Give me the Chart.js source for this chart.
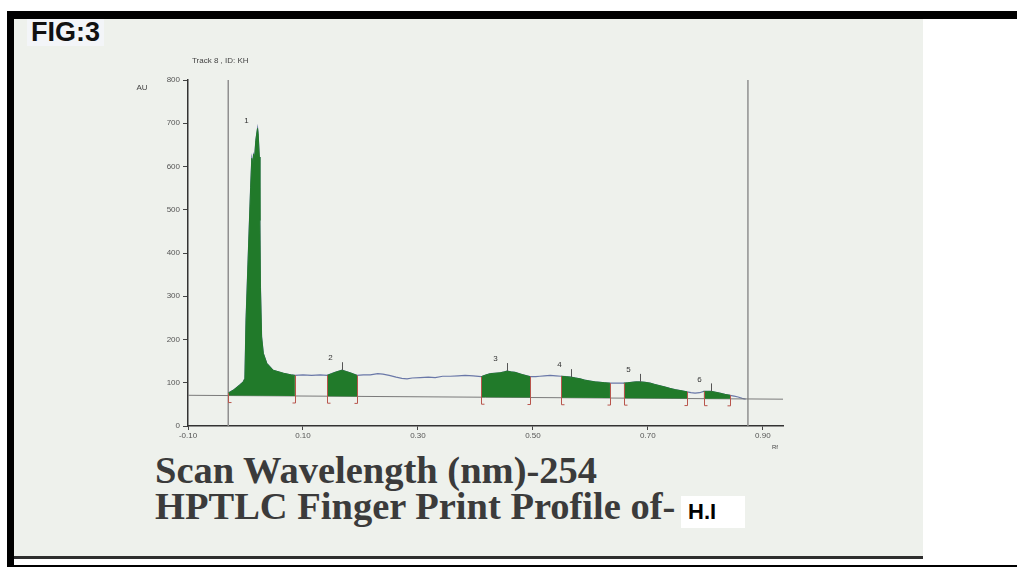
<!DOCTYPE html>
<html lang="en">
<head>
    <meta charset="UTF-8">
    <title>FIG:3 HPTLC Finger Print Profile</title>
    <style>
        html, body {
            margin: 0;
            padding: 0;
            background: #fff;
            width: 1017px;
            height: 567px;
            overflow: hidden;
        }

        #page {
            position: relative;
            width: 1017px;
            height: 567px;
        }

        .bar { position: absolute; background: #000; }
        #topbar { left: 7px; top: 11px; width: 1010px; height: 8px; }
        #leftbar { left: 7px; top: 11px; width: 7px; height: 556px; }
        #bottombar { left: 7px; top: 565px; width: 1010px; height: 2px; }

        #paper {
            position: absolute;
            left: 14px;
            top: 19px;
            width: 909px;
            height: 537px;
            background: #eef1ec;
        }

        #edge {
            position: absolute;
            left: 14px;
            top: 556px;
            width: 909px;
            height: 3px;
            background: #2e2e2e;
        }

        #fig {
            position: absolute;
            left: 27px;
            top: 19px;
            font: bold 27px "Liberation Sans", Arial, sans-serif;
            line-height: 27px;
            color: #111;
            background: #f3f5f8;
            padding: 0 4px;
        }

        .caption {
            position: absolute;
            left: 155px;
            font: bold 38.5px "Liberation Serif", "Times New Roman", serif;
            line-height: 38.5px;
            color: #3b3b3b;
            white-space: nowrap;
        }

        #hi {
            position: absolute;
            left: 681px;
            top: 496px;
            width: 64px;
            height: 32px;
            background: #fff;
            font: bold 22px "Liberation Sans", Arial, sans-serif;
            line-height: 32px;
            color: #000;
            padding-left: 7px;
            box-sizing: border-box;
        }

        #chart {
            position: absolute;
            left: 0;
            top: 0;
        }
    </style>
</head>
<body>
    <div id="page">
        <div id="paper"></div>
        <div id="edge"></div>
        <div class="bar" id="topbar"></div>
        <div class="bar" id="leftbar"></div>
        <div class="bar" id="bottombar"></div>
        <div id="fig">FIG:3</div>
        <div class="caption" style="top:451px">Scan Wavelength (nm)-254</div>
        <div class="caption" style="top:487px">HPTLC Finger Print Profile of-</div>
        <div id="hi">H.I</div>
        <canvas id="chart" width="1017" height="567"></canvas>
    </div>

    <script src="https://cdn.jsdelivr.net/npm/chart.js@4"></script>

    <script>
        // densitogram trace (Rf, AU)
        const signalRf = [
            -0.030, -0.020, -0.010, -0.004, -0.001, 0.001, 0.005, 0.009, 0.011, 0.013,
            0.014, 0.016, 0.018, 0.0195, 0.021, 0.022, 0.024, 0.025, 0.026, 0.028,
            0.031, 0.037, 0.048, 0.066, 0.080, 0.086, 0.100, 0.115, 0.130, 0.142,
            0.150, 0.156, 0.163, 0.168, 0.175, 0.182, 0.194, 0.205, 0.217, 0.230,
            0.239, 0.250, 0.262, 0.272, 0.281, 0.290, 0.304, 0.318, 0.330, 0.343,
            0.356, 0.370, 0.382, 0.396, 0.410, 0.418, 0.426, 0.434, 0.443, 0.450,
            0.455, 0.462, 0.469, 0.481, 0.495, 0.505, 0.512, 0.520, 0.530, 0.540,
            0.549, 0.558, 0.566, 0.574, 0.582, 0.590, 0.599, 0.608, 0.617, 0.625,
            0.634, 0.646, 0.658, 0.665, 0.672, 0.679, 0.686, 0.695, 0.704, 0.712,
            0.721, 0.730, 0.738, 0.747, 0.756, 0.768, 0.775, 0.782, 0.790, 0.797,
            0.803, 0.810, 0.818, 0.825, 0.834, 0.843, 0.850, 0.857, 0.864, 0.870
        ];
        const signalAU = [
            76, 84, 95, 102, 110, 245, 400, 552, 619, 605,
            628, 622, 660, 675, 688, 676, 622, 475, 321, 206,
            168, 145, 129, 122, 118, 117, 118, 117, 118, 117,
            121, 124, 127, 129, 126, 123, 117, 118, 118, 121,
            120, 117, 113, 110, 109, 111, 112, 113, 112, 115,
            115, 116, 117, 116, 114, 118, 121, 122, 123, 125,
            127, 125, 124, 119, 114, 114, 115, 116, 117, 116,
            115, 114, 113, 111, 109, 106, 104, 102, 101, 100,
            99, 99, 99, 100, 101, 102, 102, 101, 99, 96,
            93, 90, 87, 84, 82, 79, 77, 76, 77, 80,
            80, 80, 78, 76, 73, 71, 69, 67, 64, 62
        ];

        // integrated peaks
        const peakLabels = ['1', '2', '3', '4', '5', '6'];
        const peakStart = [-0.030, 0.142, 0.410, 0.549, 0.658, 0.797];
        const peakEnd = [0.086, 0.194, 0.495, 0.634, 0.768, 0.843];
        const peakTopRf = [0.021, 0.168, 0.455, 0.566, 0.686, 0.810];
        const peakTopAU = [688, 129, 127, 113, 102, 80];

        const baselineRf = [-0.10, 0.935];
        const baselineAU = [71, 62];

        const scanStartRf = -0.030;
        const scanEndRf = 0.874;

        const xTicks = [-0.10, 0.10, 0.30, 0.50, 0.70, 0.90];
        const yTicks = [0, 100, 200, 300, 400, 500, 600, 700, 800];

        const green = '#217a2a';
        const markRed = '#b8554c';
        const smallFont = { family: 'Liberation Sans, Arial, sans-serif', size: 8 };

        const signalPoints = signalRf.map((r, i) => ({ x: r, y: signalAU[i] }));

        const peakSets = peakStart.map((s, k) => ({
            label: 'peak ' + peakLabels[k],
            data: signalPoints.filter(p => p.x >= s && p.x <= peakEnd[k]),
            borderColor: green,
            borderWidth: 1,
            backgroundColor: green,
            fill: 0,
            order: 1
        }));

        function baseAt(r) {
            const t = (r - baselineRf[0]) / (baselineRf[1] - baselineRf[0]);
            return baselineAU[0] + t * (baselineAU[1] - baselineAU[0]);
        }

        const decorations = {
            id: 'decorations',
            afterDatasetsDraw(chart) {
                const ctx = chart.ctx;
                const x = chart.scales.x;
                const y = chart.scales.y;
                ctx.save();

                ctx.font = '8px "Liberation Sans", Arial, sans-serif';
                ctx.fillStyle = '#444';
                ctx.textBaseline = 'middle';
                ctx.textAlign = 'left';
                ctx.fillText('Track 8 , ID: KH', x.left + 4, y.top - 19);
                ctx.textAlign = 'center';
                ctx.fillText('AU', x.left - 46, y.top + 8);
                ctx.font = '6px "Liberation Sans", Arial, sans-serif';
                ctx.fillText('Rf', x.right - 8, y.bottom + 21);

                // boundary marks of each integrated peak
                ctx.strokeStyle = markRed;
                ctx.lineWidth = 1;
                const mark = (r, dir) => {
                    const au = signalAU[signalRf.indexOf(r)];
                    const px = Math.round(x.getPixelForValue(r)) + 0.5;
                    const bottom = y.getPixelForValue(baseAt(r)) + 7;
                    ctx.beginPath();
                    ctx.moveTo(px, y.getPixelForValue(au));
                    ctx.lineTo(px, bottom);
                    ctx.lineTo(px + dir * 3, bottom);
                    ctx.stroke();
                };
                peakStart.forEach(r => mark(r, 1));
                peakEnd.forEach(r => mark(r, -1));

                // peak maximum ticks and numbers
                ctx.font = '8px "Liberation Sans", Arial, sans-serif';
                ctx.fillStyle = '#333';
                peakLabels.forEach((lab, k) => {
                    const px = Math.round(x.getPixelForValue(peakTopRf[k])) + 0.5;
                    const py = y.getPixelForValue(peakTopAU[k]);
                    if (k > 0) {
                        ctx.strokeStyle = '#555';
                        ctx.beginPath();
                        ctx.moveTo(px, py);
                        ctx.lineTo(px, py - 8);
                        ctx.stroke();
                    }
                    ctx.fillText(lab, px - 12, py - (k === 0 ? 8 : 12));
                });
                ctx.restore();
            }
        };

        new Chart(document.getElementById('chart'), {
            type: 'line',
            data: {
                datasets: [
                    {
                        label: 'baseline',
                        data: baselineRf.map((r, i) => ({ x: r, y: baselineAU[i] })),
                        borderColor: '#7a7a7a',
                        borderWidth: 1,
                        fill: false,
                        order: 5
                    },
                    ...peakSets,
                    {
                        label: 'signal',
                        data: signalPoints,
                        borderColor: '#6a78a8',
                        borderWidth: 1.2,
                        fill: false,
                        order: 10
                    },
                    {
                        label: 'start',
                        data: [{ x: scanStartRf, y: 0 }, { x: scanStartRf, y: 800 }],
                        borderColor: '#8f8f8f',
                        borderWidth: 1.5,
                        fill: false,
                        order: 6
                    },
                    {
                        label: 'end',
                        data: [{ x: scanEndRf, y: 0 }, { x: scanEndRf, y: 800 }],
                        borderColor: '#8f8f8f',
                        borderWidth: 1.5,
                        fill: false,
                        order: 6
                    }
                ]
            },
            options: {
                responsive: false,
                animation: false,
                layout: { padding: { left: 148, right: 234, top: 80, bottom: 111 } },
                elements: { point: { radius: 0 }, line: { tension: 0 } },
                plugins: {
                    legend: { display: false },
                    tooltip: { enabled: false }
                },
                scales: {
                    x: {
                        type: 'linear',
                        min: -0.10,
                        max: 0.935,
                        afterBuildTicks: s => { s.ticks = xTicks.map(v => ({ value: v })); },
                        afterFit: s => { s.height = 30; },
                        ticks: {
                            callback: v => v.toFixed(2),
                            font: smallFont,
                            color: '#555',
                            padding: 1,
                            maxRotation: 0,
                            autoSkip: false
                        },
                        grid: { drawOnChartArea: false, drawTicks: true, tickLength: 4, color: '#444' },
                        border: { color: '#333', width: 1.5 }
                    },
                    y: {
                        min: 0,
                        max: 800,
                        afterBuildTicks: s => { s.ticks = yTicks.map(v => ({ value: v })); },
                        afterFit: s => { s.width = 40; },
                        ticks: {
                            font: smallFont,
                            color: '#555',
                            padding: 3
                        },
                        grid: { drawOnChartArea: false, drawTicks: true, tickLength: 5, color: '#444' },
                        border: { color: '#333', width: 1.5 }
                    }
                }
            },
            plugins: [decorations]
        });
    </script>
</body>
</html>
